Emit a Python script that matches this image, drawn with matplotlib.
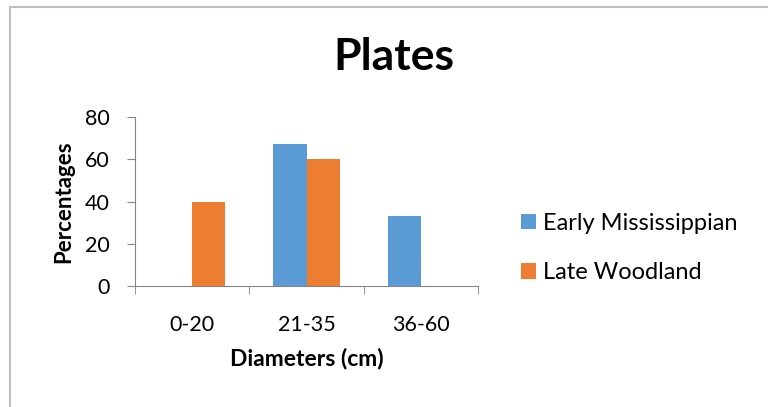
import numpy as np
import matplotlib
matplotlib.use("Agg")
import matplotlib.pyplot as plt
from matplotlib.patches import Rectangle

plt.rcParams['font.family'] = ['Lato', 'DejaVu Sans']

categories = ["0-20", "21-35", "36-60"]
early_miss = [0, 67, 33]
late_wood = [40, 60, 0]
series_names = ["Early Mississippian", "Late Woodland"]
colors = ["#5B9BD5", "#ED7D31"]

fig = plt.figure(figsize=(7.68, 4.07), dpi=100)
ax = fig.add_axes([135/768, 1 - 286/407, (478 - 135)/768, (286 - 117)/407])

x = np.arange(len(categories))
w = 33 / 114.3
ax.bar(x - w/2, early_miss, w, color=colors[0], label=series_names[0])
ax.bar(x + w/2, late_wood, w, color=colors[1], label=series_names[1])

ax.set_xlim(-0.5, 2.5)
ax.set_ylim(0, 80)
ax.set_yticks([0, 20, 40, 60, 80])

# category boundaries get the tick marks, labels sit in between
ax.set_xticks(x)
ax.set_xticklabels(categories)
ax.set_xticks([-0.5, 0.5, 1.5, 2.5], minor=True)
ax.tick_params(axis='x', which='major', length=0, pad=21, labelsize=15.5)
ax.tick_params(axis='x', which='minor', length=6, color="#868686", direction='out')
ax.tick_params(axis='y', length=6, color="#868686", pad=12, labelsize=15.5)

for s in ["top", "right"]:
    ax.spines[s].set_visible(False)
for s in ["left", "bottom"]:
    ax.spines[s].set_color("#868686")

ax.set_xlabel("Diameters (cm)", fontsize=16.5, fontweight='bold', labelpad=9)
ax.set_ylabel("Percentages", fontsize=16, fontweight='bold', labelpad=8)

fig.text(394/768, 1 - 57/407, "Plates", ha='center', va='center',
         fontsize=32, fontweight='bold')

ax.legend(loc='center left', bbox_to_anchor=(500/768, 1 - 248/407),
          bbox_transform=fig.transFigure, frameon=False, fontsize=17,
          handlelength=0.62, handleheight=0.62, handletextpad=0.3,
          labelspacing=1.2)

# chart frame
fig.patches.append(Rectangle((10/768, -0.1), 1.2, 1 - 7/407 + 0.1,
                             transform=fig.transFigure, fill=False,
                             edgecolor="#BFBFBF", linewidth=1.5))

fig.savefig("out.png", dpi=100)
